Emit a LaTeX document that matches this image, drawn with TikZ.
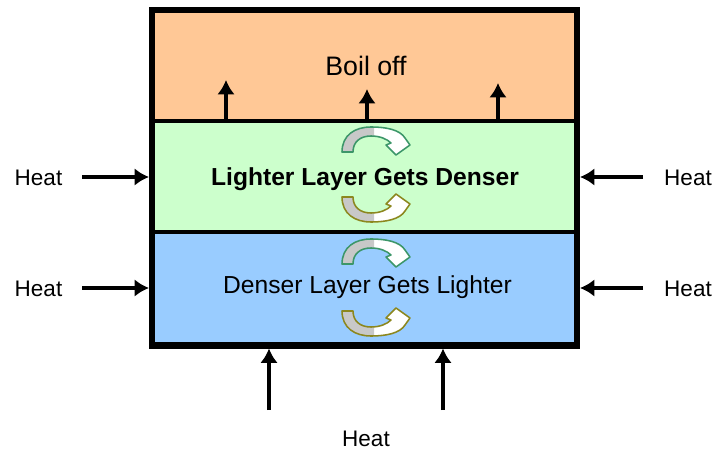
\documentclass[tikz,border=0pt]{standalone}
\usepackage{fontspec}
\setmainfont{Liberation Sans}
\usepackage{tikz}
\usetikzlibrary{arrows.meta,positioning,calc}

\definecolor{boilfill}{RGB}{255,200,150}
\definecolor{lightfill}{RGB}{204,255,204}
\definecolor{densefill}{RGB}{153,204,255}
\definecolor{swirlgreen}{RGB}{60,150,105}
\definecolor{swirlolive}{RGB}{140,135,30}
\definecolor{swirlgray}{RGB}{200,200,200}

% one curled block arrow, feet on the x axis, bending over to the right
\newcommand{\swirlshape}{(-29,0) .. controls (-29,-17) and (-16,-25) .. (0,-25)
  .. controls (16,-25) and (29,-22) .. (34,-14) -- (39,-7) -- (25,3) -- (15,-7) -- (20,-9)
  .. controls (16,-13) and (9,-16) .. (0,-16) .. controls (-11,-16) and (-18,-10) .. (-18,0) -- cycle}

\begin{document}
\begin{tikzpicture}[x=0.025cm,y=-0.025cm,
	heat/.style={line width=2.5pt,-{Latex[length=3.6mm,width=4.4mm]}},
	wall/.style={line width=4.3pt},
	sep/.style={line width=2.2pt},
	heatlbl/.style={font=\fontsize{16}{19}\selectfont,anchor=base},
	layerlbl/.style={font=\fontsize{17.5}{21}\selectfont,anchor=base}]
	\useasboundingbox (0,0) rectangle (715,451);
	
	% the three layers
	\fill[boilfill] (152,10) rectangle (577,121);
	\fill[lightfill] (152,121) rectangle (577,232);
	\fill[densefill] (152,232) rectangle (577,345.5);
	\draw[sep] (152,121)--(577,121);
	\draw[sep] (152,232)--(577,232);
	\draw[wall] (152,10) rectangle (577,345.5);
	
	% layer texts
	\node[font=\fontsize{19}{23}\selectfont,anchor=base] (boil) at (366,76) {Boil off};
	\node[layerlbl,font=\bfseries\fontsize{17.5}{21}\selectfont] (lighter) at (365,186) {Lighter Layer Gets Denser};
	\node[layerlbl] (denser) at (367.5,293.5) {Denser Layer Gets Lighter};
	
	% curled arrows
	\foreach \yy/\flip/\col in {152/1/swirlgreen,197/-1/swirlolive,264/1/swirlgreen,311/-1/swirlolive}{
		\begin{scope}[shift={(371,\yy)},yscale=\flip]
			\fill[white] \swirlshape;
			\begin{scope}
				\clip (-40,-30) rectangle (3,6);
				\fill[swirlgray] \swirlshape;
			\end{scope}
			\draw[\col,line width=1.1pt,line join=round] \swirlshape;
		\end{scope}
	}
	
	% boil off arrows
	\coordinate (b1) at (226,121); \coordinate (b1t) at (226,80);
	\coordinate (b2) at (367,121); \coordinate (b2t) at (367,89);
	\coordinate (b3) at (498,121); \coordinate (b3t) at (498,83);
	\draw[heat] (b1)--(b1t);
	\draw[heat] (b2)--(b2t);
	\draw[heat] (b3)--(b3t);
	
	% heat from the sides
	\coordinate (l1) at (82,177); \coordinate (l1t) at (149,177);
	\coordinate (l2) at (82,288); \coordinate (l2t) at (149,288);
	\coordinate (r1) at (643,177); \coordinate (r1t) at (580,177);
	\coordinate (r2) at (643,288); \coordinate (r2t) at (580,288);
	\draw[heat] (l1)--(l1t);
	\draw[heat] (l2)--(l2t);
	\draw[heat] (r1)--(r1t);
	\draw[heat] (r2)--(r2t);
	
	% heat from below
	\coordinate (d1) at (269,410); \coordinate (d1t) at (269,348.5);
	\coordinate (d2) at (443,410); \coordinate (d2t) at (443,348.5);
	\draw[heat] (d1)--(d1t);
	\draw[heat] (d2)--(d2t);
	
	\node[heatlbl] (heatl1) at (38.5,186) {Heat};
	\node[heatlbl] (heatl2) at (38.5,297) {Heat};
	\node[heatlbl] (heatr1) at (688,186) {Heat};
	\node[heatlbl] (heatr2) at (688,296) {Heat};
	\node[heatlbl] (heatd) at (366,446) {Heat};
\end{tikzpicture}
\end{document}
